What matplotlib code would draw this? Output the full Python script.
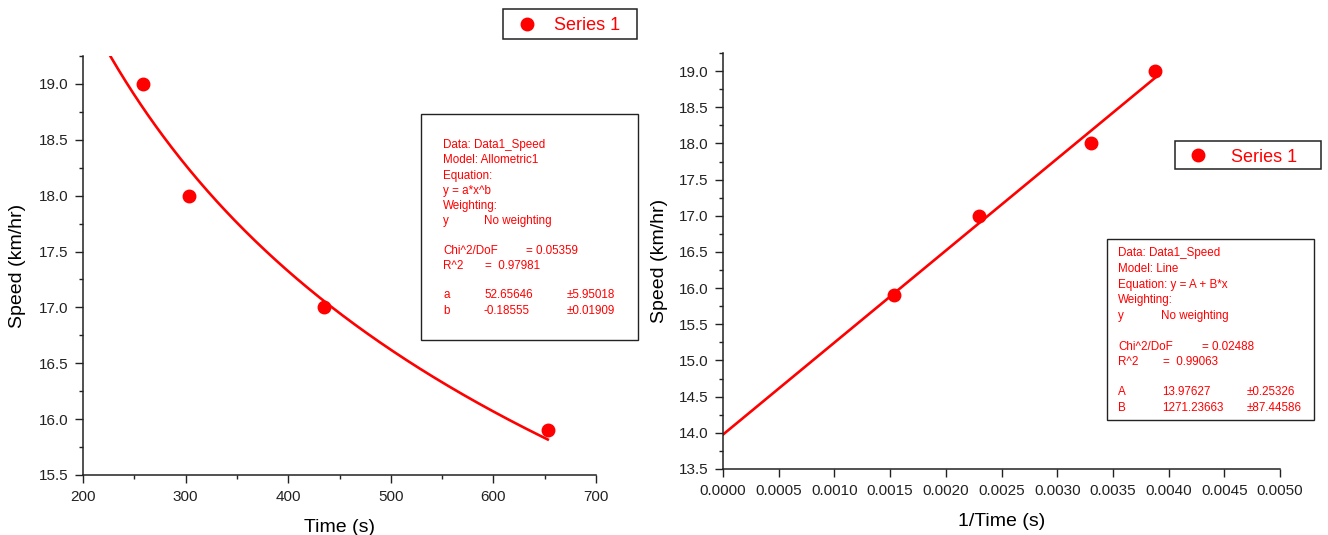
import numpy as np
import matplotlib
matplotlib.use("Agg")
import matplotlib.pyplot as plt
from matplotlib.patches import Rectangle
from matplotlib.lines import Line2D
from matplotlib.ticker import MultipleLocator, FormatStrFormatter

plt.rcParams['font.family'] = ['Liberation Sans', 'DejaVu Sans']

# Measurements
time_s = [258, 303, 435, 653]
speed_kmh = [19.0, 18.0, 17.0, 15.9]
inv_time = [1.0 / t for t in time_s]

# Fit parameters
allo_a, allo_a_err = 52.65646, 5.95018
allo_b, allo_b_err = -0.18555, 0.01909
allo_chi2, allo_r2 = 0.05359, 0.97981
lin_A, lin_A_err = 13.97627, 0.25326
lin_B, lin_B_err = 1271.23663, 87.44586
lin_chi2, lin_r2 = 0.02488, 0.99063

RED = '#ff0000'
W, H = 1328, 535

fig = plt.figure(figsize=(W / 100, H / 100), dpi=100)


def fx(px):
    return px / W


def fy(py):
    return 1 - py / H


def style_axes(ax):
    for s in ('top', 'right'):
        ax.spines[s].set_visible(False)
    for s in ('left', 'bottom'):
        ax.spines[s].set_linewidth(1.1)
        ax.spines[s].set_color('#222222')
    ax.tick_params(which='major', direction='out', length=6, width=1.0,
                   labelsize=11, pad=4.5, colors='#222222')
    ax.tick_params(which='minor', direction='out', length=3, width=1.0,
                   colors='#222222')


# Left panel: speed vs time with allometric fit
ax1 = fig.add_axes([fx(83), fy(475), fx(596) - fx(83), fy(56) - fy(475)])
style_axes(ax1)
ax1.set_xlim(200, 700)
ax1.set_ylim(15.5, 19.25)
ax1.xaxis.set_major_locator(MultipleLocator(100))
ax1.xaxis.set_minor_locator(MultipleLocator(50))
ax1.yaxis.set_major_locator(MultipleLocator(0.5))
ax1.yaxis.set_minor_locator(MultipleLocator(0.25))
ax1.yaxis.set_major_formatter(FormatStrFormatter('%.1f'))
xc = np.linspace(220, max(time_s), 300)
ax1.plot(xc, allo_a * xc ** allo_b, color=RED, lw=1.9, zorder=2)
ax1.plot(time_s, speed_kmh, 'o', color=RED, ms=9, zorder=3, clip_on=False)
ax1.set_xlabel('Time (s)', fontsize=14, labelpad=11)
ax1.set_ylabel('Speed (km/hr)', fontsize=14, labelpad=9)

# Right panel: speed vs 1/time with linear fit
ax2 = fig.add_axes([fx(723), fy(469), fx(1280) - fx(723), fy(53) - fy(469)])
style_axes(ax2)
ax2.set_xlim(0, 0.005)
ax2.set_ylim(13.5, 19.25)
ax2.xaxis.set_major_locator(MultipleLocator(0.0005))
ax2.xaxis.set_major_formatter(FormatStrFormatter('%.4f'))
ax2.yaxis.set_major_locator(MultipleLocator(0.5))
ax2.yaxis.set_minor_locator(MultipleLocator(0.25))
ax2.yaxis.set_major_formatter(FormatStrFormatter('%.1f'))
xl = np.linspace(0, max(inv_time), 50)
ax2.plot(xl, lin_A + lin_B * xl, color=RED, lw=1.9, zorder=2)
ax2.plot(inv_time, speed_kmh, 'o', color=RED, ms=9, zorder=3, clip_on=False)
ax2.set_xlabel('1/Time (s)', fontsize=14, labelpad=11)
ax2.set_ylabel('Speed (km/hr)', fontsize=14, labelpad=8)


def legend_box(x0, y0, x1, y1, mx, tx):
    fig.patches.append(Rectangle((fx(x0), fy(y1)), fx(x1) - fx(x0), fy(y0) - fy(y1),
                                 transform=fig.transFigure, facecolor='white',
                                 edgecolor='#222222', lw=1.1))
    yc = (y0 + y1) / 2
    fig.add_artist(Line2D([fx(mx)], [fy(yc)], marker='o', color=RED, ms=9,
                          transform=fig.transFigure))
    fig.text(fx(tx), fy(yc + 6.5), 'Series 1', color=RED, fontsize=13,
             va='baseline', ha='left')


legend_box(503, 9, 637, 39, 527, 554)
legend_box(1175, 141, 1321, 169, 1198, 1231)


def fit_box(x0, y0, x1, y1, rows):
    fig.patches.append(Rectangle((fx(x0), fy(y1)), fx(x1) - fx(x0), fy(y0) - fy(y1),
                                 transform=fig.transFigure, facecolor='white',
                                 edgecolor='#222222', lw=1.0))
    for py, pieces in rows:
        for px, s in pieces:
            fig.text(fx(px), fy(py + 4), s, color=RED, fontsize=8.4,
                     va='baseline', ha='left')


fit_box(421, 114, 638, 340, [
    (144, [(443, 'Data: Data1_Speed')]),
    (159, [(443, 'Model: Allometric1')]),
    (175, [(443, 'Equation:')]),
    (190, [(443, 'y = a*x^b')]),
    (205, [(443, 'Weighting:')]),
    (220, [(443, 'y'), (484, 'No weighting')]),
    (250, [(443, 'Chi^2/DoF'), (526, f'= {allo_chi2:.5f}')]),
    (265, [(443, 'R^2'), (485, f'=  {allo_r2:.5f}')]),
    (294, [(443, 'a'), (484, f'{allo_a:.5f}'), (567, f'±{allo_a_err:.5f}')]),
    (310, [(443, 'b'), (484, f'{allo_b:.5f}'), (567, f'±{allo_b_err:.5f}')]),
])

fit_box(1107, 239, 1314, 420, [
    (252, [(1118, 'Data: Data1_Speed')]),
    (268, [(1118, 'Model: Line')]),
    (284, [(1118, 'Equation: y = A + B*x')]),
    (299, [(1118, 'Weighting:')]),
    (315, [(1118, 'y'), (1161, 'No weighting')]),
    (346, [(1118, 'Chi^2/DoF'), (1202, f'= {lin_chi2:.5f}')]),
    (361, [(1118, 'R^2'), (1163, f'=  {lin_r2:.5f}')]),
    (391, [(1118, 'A'), (1162, f'{lin_A:.5f}'), (1247, f'±{lin_A_err:.5f}')]),
    (407, [(1118, 'B'), (1162, f'{lin_B:.5f}'), (1247, f'±{lin_B_err:.5f}')]),
])

fig.savefig('out.png', dpi=100, facecolor='white')
